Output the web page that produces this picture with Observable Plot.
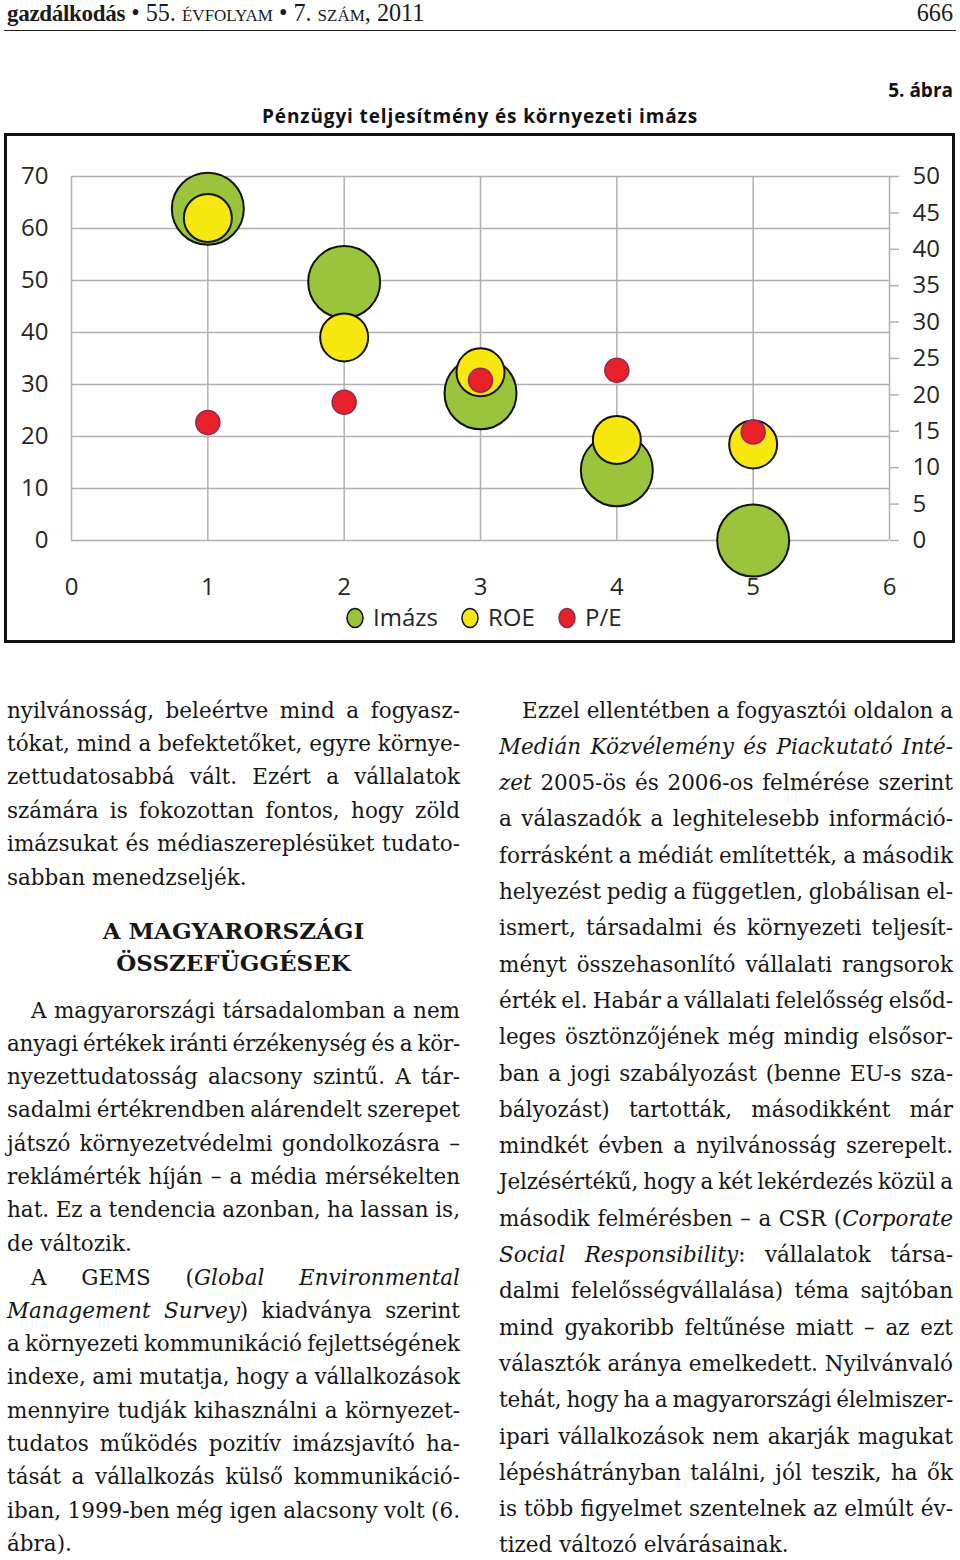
<!DOCTYPE html>
<html><head><meta charset="utf-8">
<script src="https://cdn.jsdelivr.net/npm/d3@7"></script>
<script src="https://cdn.jsdelivr.net/npm/@observablehq/plot@0.6"></script>
<style>
html,body{margin:0;padding:0;background:#fff;}
body{width:960px;height:1560px;position:relative;overflow:hidden;}
.abs{position:absolute;white-space:nowrap;}
.hdr{font-family:"Liberation Serif",serif;color:#1a1a1a;font-size:24.2px;line-height:26px;}
.hdr .sc{font-variant:small-caps;}
.fig{font-family:"Open Sans",sans-serif;font-weight:700;color:#111;font-size:19px;line-height:24px;}
.line{position:absolute;white-space:nowrap;font-family:"DejaVu Serif",serif;font-size:21.5px;line-height:34px;color:#161616;}
.line.h{font-weight:700;font-size:23px;}
#box{position:absolute;left:4px;top:133px;width:951px;height:510px;box-sizing:border-box;border:3px solid #111;}
#chart{position:absolute;left:0;top:140px;}
.leg{position:absolute;font-family:"Open Sans",sans-serif;font-size:24px;line-height:30px;color:#262626;white-space:nowrap;}
</style></head><body>
<div id="page"></div>
<script>
// ---------------- data ----------------
const categories = [1, 2, 3, 4, 5];
const imazs = [63.8, 49.7, 28.3, 13.5, 0];       // primary (left) axis
const roe   = [44.3, 27.9, 23.1, 13.8, 13.2];    // secondary (right) axis
const pe    = [16.2, 19.0, 22.0, 23.4, 14.9];    // secondary (right) axis
const seriesNames = ["Imázs", "ROE", "P/E"];
const xTicks = [0, 1, 2, 3, 4, 5, 6];
const leftTicks = [0, 10, 20, 30, 40, 50, 60, 70];
const rightTicks = [0, 5, 10, 15, 20, 25, 30, 35, 40, 45, 50];
const chartTitle = "Pénzügyi teljesítmény és környezeti imázs";
const figLabel = "5. ábra";
const pageNumber = "666";

const leftPara1 = [
  "nyilvánosság, beleértve mind a fogyasz-",
  "tókat, mind a befektetőket, egyre környe-",
  "zettudatosabbá vált. Ezért a vállalatok",
  "számára is fokozottan fontos, hogy zöld",
  "imázsukat és médiaszereplésüket tudato-",
  "sabban menedzseljék."
];
const leftHeading = ["A MAGYARORSZÁGI", "ÖSSZEFÜGGÉSEK"];
const leftPara2 = [
  "A magyarországi társadalomban a nem",
  "anyagi értékek iránti érzékenység és a kör-",
  "nyezettudatosság alacsony szintű. A tár-",
  "sadalmi értékrendben alárendelt szerepet",
  "játszó környezetvédelmi gondolkozásra –",
  "reklámérték híján – a média mérsékelten",
  "hat. Ez a tendencia azonban, ha lassan is,",
  "de változik."
];
const leftPara3 = [
  "A GEMS (<i>Global Environmental</i>",
  "<i>Management Survey</i>) kiadványa szerint",
  "a környezeti kommunikáció fejlettségének",
  "indexe, ami mutatja, hogy a vállalkozások",
  "mennyire tudják kihasználni a környezet-",
  "tudatos működés pozitív imázsjavító ha-",
  "tását a vállalkozás külső kommunikáció-",
  "iban, 1999-ben még igen alacsony volt (6.",
  "ábra)."
];
const rightPara = [
  "Ezzel ellentétben a fogyasztói oldalon a",
  "<i>Medián Közvélemény és Piackutató Inté-</i>",
  "<i>zet</i> 2005-ös és 2006-os felmérése szerint",
  "a válaszadók a leghitelesebb információ-",
  "forrásként a médiát említették, a második",
  "helyezést pedig a független, globálisan el-",
  "ismert, társadalmi és környezeti teljesít-",
  "ményt összehasonlító vállalati rangsorok",
  "érték el. Habár a vállalati felelősség elsőd-",
  "leges ösztönzőjének még mindig elsősor-",
  "ban a jogi szabályozást (benne EU-s sza-",
  "bályozást) tartották, másodikként már",
  "mindkét évben a nyilvánosság szerepelt.",
  "Jelzésértékű, hogy a két lekérdezés közül a",
  "második felmérésben – a CSR (<i>Corporate</i>",
  "<i>Social Responsibility</i>: vállalatok társa-",
  "dalmi felelősségvállalása) téma sajtóban",
  "mind gyakoribb feltűnése miatt – az ezt",
  "választók aránya emelkedett. Nyilvánvaló",
  "tehát, hogy ha a magyarországi élelmiszer-",
  "ipari vállalkozások nem akarják magukat",
  "lépéshátrányban találni, jól teszik, ha ők",
  "is több figyelmet szentelnek az elmúlt év-",
  "tized változó elvárásainak."
];

// ---------------- page text ----------------
const page = document.getElementById("page");
function addEl(cls, html, style) {
  const d = document.createElement("div");
  d.className = cls;
  d.innerHTML = html;
  Object.assign(d.style, style);
  page.appendChild(d);
  return d;
}
// running header
addEl("abs hdr", '<b style="font-size:23px;letter-spacing:-0.3px">gazdálkodás</b> • 55. <span class="sc">évfolyam</span> • 7. <span class="sc">szám</span>, 2011', {left: "7px", top: "0px"});
addEl("abs hdr", pageNumber, {right: "7px", top: "0px"});
addEl("abs", "", {left: "4px", top: "30px", width: "952px", height: "1px", background: "#222"});

// figure label and title
addEl("abs fig", figLabel, {right: "7px", top: "78px"});
const titleEl = addEl("abs fig", chartTitle, {left: "0px", width: "960px", textAlign: "center", top: "104px"});

const lines = [];
function addLine(html, x, cy, w, mode, indent) {
  const d = addEl("line" + (mode === "h" ? " h" : ""), "<span>" + html + "</span>", {left: (x + (indent || 0)) + "px", top: (cy - 16.5) + "px"});
  lines.push({el: d, w: w - (indent || 0), mode, x, indent: indent || 0});
}
function addPara(arr, x, y0, lh, w, indent) {
  arr.forEach((t, i) => addLine(t, x, y0 + i * lh, w, i === arr.length - 1 ? "l" : "j", i === 0 ? indent : 0));
}
addPara(leftPara1, 7, 710, 33.4, 453, 0);
leftHeading.forEach((t, i) => addLine(t, 7, 930 + i * 32, 453, "h", 0));
addPara(leftPara2, 7, 1010, 33.3, 453, 24);
addPara(leftPara3, 7, 1277, 33.3, 453, 24);
addPara(rightPara, 499, 710, 36.3, 454, 23);

function fitLines() {
  for (const L of lines) {
    const span = L.el.firstChild;
    span.style.wordSpacing = "0px";
    span.style.letterSpacing = "0px";
    const w = span.getBoundingClientRect().width;
    if (L.mode === "h") {
      L.el.style.left = (L.x + (L.w - w) / 2) + "px";
      continue;
    }
    if (L.mode !== "j") continue;
    const txt = span.textContent;
    const n = (txt.match(/ /g) || []).length;
    if (!n) continue;
    let ws = (L.w - w) / n;
    if (ws < -1.5) {
      const chars = txt.length;
      const ls = (L.w - w + 1.5 * n) / chars;
      ws = -1.5;
      span.style.letterSpacing = ls + "px";
    }
    span.style.wordSpacing = ws + "px";
  }
  // fit chart title width to ~436px
  titleEl.style.letterSpacing = "0px";
  const r = document.createRange(); r.selectNodeContents(titleEl);
  const tw = r.getBoundingClientRect().width;
  titleEl.style.letterSpacing = ((436 - tw) / chartTitle.length) + "px";
}

// ---------------- chart ----------------
const box = document.createElement("div"); box.id = "box"; page.appendChild(box);

const k = 70 / 50; // secondary axis 0..50 mapped onto primary 0..70
const rowsOf = (vals, s) => categories.map((c, i) => ({x: c, v: vals[i], s}));
const imazsRows = rowsOf(imazs, seriesNames[0]);
const roeRows = rowsOf(roe, seriesNames[1]);
const peRows = rowsOf(pe, seriesNames[2]);

const colors = {fillG: "#99c43c", fillY: "#f6e80f", fillR: "#e8202a"};
const grid = "#b0b0b0", ink = "#262626";

const chart = Plot.plot({
  width: 960, height: 470,
  marginLeft: 71, marginRight: 71, marginTop: 36, marginBottom: 70,
  x: {domain: [0, 6]},
  y: {domain: [0, 70]},
  style: {background: "transparent", fontFamily: '"Open Sans", sans-serif', fontSize: "24px", overflow: "visible"},
  marks: [
    Plot.ruleY(leftTicks, {stroke: grid, strokeWidth: 1.5}),
    Plot.ruleX(xTicks, {stroke: grid, strokeWidth: 1.5}),
    Plot.axisY(leftTicks, {anchor: "left", tickSize: 0, tickPadding: 23, label: null, fill: ink, tickFormat: d => String(d)}),
    Plot.axisY(rightTicks.map(t => t * k), {anchor: "right", tickSize: 9, tickPadding: 14, label: null,
      tickFormat: d => String(Math.round(d / k)), stroke: grid, strokeWidth: 1.5, fill: ink}),
    Plot.axisX(xTicks, {tickSize: 0, tickPadding: 37, label: null, fill: ink, tickFormat: d => String(d)}),
    Plot.dot(imazsRows, {x: "x", y: "v", r: 36, fill: colors.fillG, stroke: "#111", strokeWidth: 2}),
    Plot.dot(roeRows, {x: "x", y: d => d.v * k, r: 24, fill: colors.fillY, stroke: "#111", strokeWidth: 2}),
    Plot.dot(peRows, {x: "x", y: d => d.v * k, r: 12, fill: colors.fillR, stroke: "#8d2d57", strokeWidth: 1.5})
  ]
});
chart.id = "chart";
page.appendChild(chart);

// legend (HTML, below the svg)
const legendItems = [
  {name: seriesNames[0], fill: colors.fillG, stroke: "#111", cx: 355},
  {name: seriesNames[1], fill: colors.fillY, stroke: "#111", cx: 470},
  {name: seriesNames[2], fill: colors.fillR, stroke: "#8d2d57", cx: 567}
];
legendItems.forEach(it => {
  const m = document.createElementNS("http://www.w3.org/2000/svg", "svg");
  m.setAttribute("width", 22); m.setAttribute("height", 24);
  m.style.position = "absolute"; m.style.left = (it.cx - 11) + "px"; m.style.top = (618 - 12) + "px";
  m.innerHTML = `<ellipse cx="11" cy="12" rx="8" ry="9.5" fill="${it.fill}" stroke="${it.stroke}" stroke-width="1.5"/>`;
  page.appendChild(m);
  addEl("leg", it.name, {left: (it.cx + 18) + "px", top: (618 - 16) + "px"});
});

fitLines();
if (document.fonts && document.fonts.ready) document.fonts.ready.then(fitLines);
</script>
</body></html>
